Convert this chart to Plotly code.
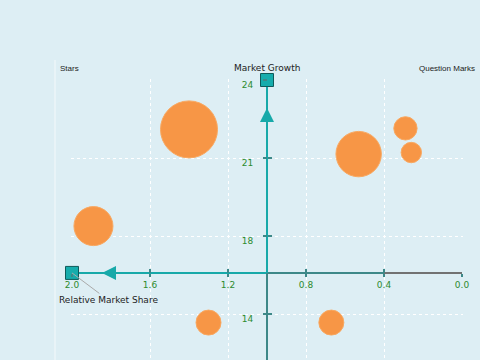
import plotly.graph_objects as go

# ---- data ----
share = [1.40, 0.53, 0.29, 0.26, 1.89, 1.30, 0.67]      # relative market share
growth = [22.10, 21.15, 22.14, 21.21, 18.38, 14.67, 14.67]  # market growth
volume = [15.6, 9.9, 2.6, 2.0, 7.3, 3.0, 3.0]           # bubble size
x_ticks = [2.0, 1.6, 1.2, 0.8, 0.4, 0.0]
x_tick_labels = ["2.0", "1.6", "1.2", "0.8", "0.4", "0.0"]
y_ticks = [24, 21, 18, 15]
y_tick_labels = ["24", "21", "18", "14"]

# ---- layout constants ----
BG = "#ddeef4"
TEAL = "#17a9a9"
TEAL_DARK = "#3d8888"
GRAY = "#727272"
GREEN = "#2e8b2e"
FONT = "DejaVu Sans"
CROSS_X = 1.0
CROSS_Y = 16.58
XR = [2.0 + 1 / 195, -1 / 195]
YR = [24 - 280 / 26, 24 + 1 / 26]
pos_xaxis = (CROSS_Y - YR[0]) / (YR[1] - YR[0])
pos_yaxis = (XR[0] - CROSS_X) / (XR[0] - XR[1])

fig = go.Figure()

# axis lines
fig.add_trace(go.Scatter(x=[x_ticks[0], CROSS_X], y=[CROSS_Y, CROSS_Y], mode="lines",
                         line=dict(color=TEAL, width=2), hoverinfo="skip"))
fig.add_trace(go.Scatter(x=[CROSS_X, x_ticks[4]], y=[CROSS_Y, CROSS_Y], mode="lines",
                         line=dict(color=TEAL_DARK, width=2), hoverinfo="skip"))
fig.add_trace(go.Scatter(x=[x_ticks[4], x_ticks[5]], y=[CROSS_Y, CROSS_Y], mode="lines",
                         line=dict(color=GRAY, width=2), hoverinfo="skip"))
fig.add_trace(go.Scatter(x=[CROSS_X, CROSS_X], y=[y_ticks[0], CROSS_Y], mode="lines",
                         line=dict(color=TEAL, width=2), hoverinfo="skip"))
fig.add_trace(go.Scatter(x=[CROSS_X, CROSS_X], y=[CROSS_Y, YR[0]], mode="lines",
                         line=dict(color=TEAL_DARK, width=2), hoverinfo="skip"))

# arrow heads
fig.add_trace(go.Scatter(x=[1.846, CROSS_X], y=[CROSS_Y, 22.92], mode="markers",
                         marker=dict(symbol=["arrow-left", "arrow-up"], size=14, color=TEAL,
                                     line=dict(width=0)),
                         hoverinfo="skip", cliponaxis=False))

# bubbles
fig.add_trace(go.Scatter(
    x=share, y=growth, mode="markers",
    marker=dict(size=volume, sizemode="area", sizeref=2 * max(volume) / 57 ** 2,
                color="#f79646", opacity=1, line=dict(color="#f9a860", width=1)),
    hoverinfo="skip"))

# end squares
fig.add_trace(go.Scatter(x=[x_ticks[0], CROSS_X], y=[CROSS_Y, y_ticks[0]], mode="markers",
                         marker=dict(symbol="square", size=13, color="#16acac",
                                     line=dict(color="#0f5a5a", width=1)),
                         hoverinfo="skip", cliponaxis=False))

# helper trace for overlay axes
fig.add_trace(go.Scatter(x=[x_ticks[0]], y=[y_ticks[0]], xaxis="x2", yaxis="y2",
                         mode="markers", marker=dict(opacity=0), hoverinfo="skip"))

fig.update_layout(
    width=480, height=360,
    margin=dict(l=71, r=17, t=79, b=0),
    paper_bgcolor=BG, plot_bgcolor=BG,
    showlegend=False, hovermode=False,
    xaxis=dict(range=XR, anchor="free", position=pos_xaxis,
               tickvals=x_ticks, ticktext=x_tick_labels,
               ticks="outside", ticklen=3, tickwidth=2, tickcolor=TEAL_DARK,
               tickfont=dict(family=FONT, size=9, color=GREEN),
               showline=False, zeroline=False,
               showgrid=True, gridcolor="white", griddash="dot", gridwidth=1),
    yaxis=dict(range=YR, anchor="free", position=pos_yaxis, side="left",
               tickvals=y_ticks, ticktext=y_tick_labels,
               ticks="outside", ticklen=4, tickwidth=2, tickcolor=TEAL_DARK,
               ticklabelshift=5, ticklabelstandoff=8,
               tickfont=dict(family=FONT, size=9, color=GREEN),
               showline=False, zeroline=False,
               showgrid=True, gridcolor="white", griddash="dot", gridwidth=1),
    xaxis2=dict(range=XR, overlaying="x", anchor="free", position=pos_xaxis,
                tickvals=x_ticks, ticks="inside", ticklen=4, tickwidth=2,
                tickcolor=TEAL_DARK, showticklabels=False, showgrid=False,
                zeroline=False, showline=False),
    yaxis2=dict(range=YR, overlaying="y", anchor="free", position=pos_yaxis,
                tickvals=y_ticks, ticks="inside", ticklen=4, tickwidth=2,
                tickcolor=TEAL_DARK, showticklabels=False, showgrid=False,
                zeroline=False, showline=False),
    annotations=[
        dict(x=x_ticks[0], y=CROSS_Y, text="Relative Market Share", showarrow=True,
             arrowhead=0, arrowwidth=1, arrowcolor="#aaaaaa", ax=36, ay=27,
             standoff=0, font=dict(family=FONT, size=9, color="#222222")),
        dict(x=CROSS_X, y=y_ticks[0], text="Market Growth", showarrow=False,
             yanchor="middle", yshift=12, font=dict(family=FONT, size=9, color="#222222")),
        dict(xref="paper", yref="paper", x=(58 - 71) / 392, y=1 + 11 / 281,
             xanchor="left", yanchor="middle", text="Stars", showarrow=False,
             font=dict(family="Liberation Sans", size=8, color="#222222")),
        dict(xref="paper", yref="paper", x=(477 - 71) / 392, y=1 + 11 / 281,
             xanchor="right", yanchor="middle", text="Question Marks", showarrow=False,
             font=dict(family="Liberation Sans", size=8, color="#222222")),
    ],
    shapes=[dict(type="line", xref="paper", yref="paper",
                 x0=(55 - 71) / 392, x1=(55 - 71) / 392, y0=0, y1=1 + 19 / 281,
                 line=dict(color="#f4f9fb", width=1), layer="below")],
)

fig.write_html("out.html", config={"displayModeBar": False},
               post_script="document.body.style.margin='0';document.body.style.overflow='hidden';")
